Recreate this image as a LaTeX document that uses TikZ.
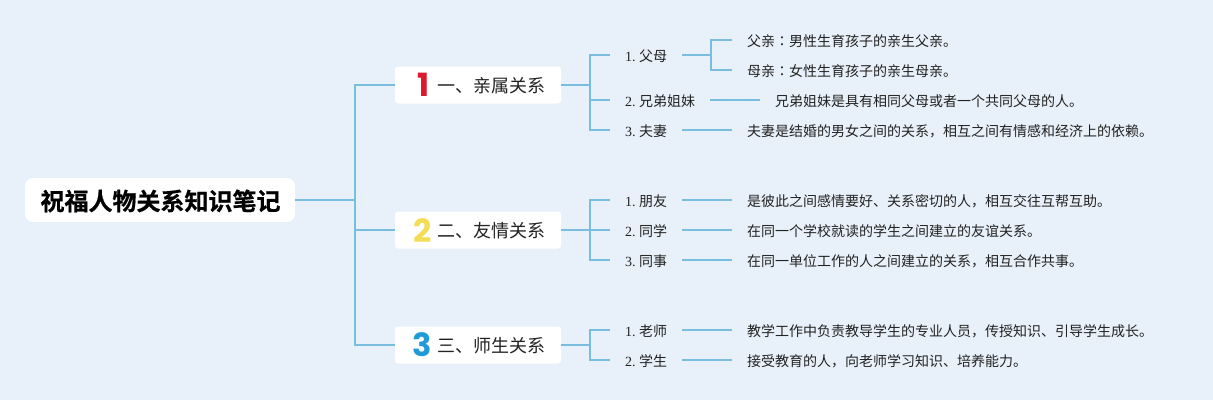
\documentclass[tikz,border=0pt]{standalone}
\usepackage{fontspec}
\setmainfont{Liberation Serif}
\newfontfamily\cjk{Noto Sans CJK SC}
\newfontfamily\cjkb[FakeBold=0.6]{Noto Sans CJK SC Bold}
\newfontfamily\cjkj{Noto Sans CJK JP}
\newfontfamily\numf{Poppins Bold}
\definecolor{bg}{HTML}{E8F1F9}
\definecolor{ln}{HTML}{7ABEDF}
\definecolor{ink}{HTML}{222222}
\definecolor{cred}{HTML}{DB1A2E}
\definecolor{cyel}{HTML}{F5DC55}
\definecolor{cblu}{HTML}{1F9BD8}
\tikzset{
  conn/.style={draw=ln,line width=2pt},
  rootbox/.style={fill=white,rounded corners=8pt,minimum width=270pt,minimum height=44pt,inner sep=0pt},
  roottext/.style={inner sep=0pt,font=\cjkb\fontsize{24}{24}\selectfont,text=black},
  topicbox/.style={fill=white,rounded corners=3pt,minimum width=166pt,minimum height=37pt,inner sep=0pt,anchor=center},
  topiclabel/.style={inner sep=0pt,anchor=west,text=ink,font=\cjk\fontsize{18}{18}\selectfont},
  icon/.style={inner sep=0pt,font=\numf\fontsize{32}{32}\selectfont},
  subbox/.style={inner xsep=15pt,inner ysep=0pt,anchor=west,text=ink,text height=14pt,text depth=1.4pt,font=\fontsize{14}{16}\selectfont},
  detail/.style={inner xsep=15pt,inner ysep=0pt,anchor=west,text=ink,text height=14pt,text depth=1.4pt,font=\cjk\fontsize{14}{16}\selectfont},
}
\newcommand{\sublabel}[3]{\makebox[#1pt][l]{#2\hspace{3.4pt}{\cjk #3}}}
\begin{document}
\begin{tikzpicture}[x=1pt,y=-1pt]
\path[use as bounding box,fill=bg] (0,0) rectangle (1213,400);
\coordinate (t0) at (355,200);
\coordinate (t1) at (590,85);
\coordinate (t2) at (590,230);
\coordinate (t3) at (590,345);
\coordinate (t11) at (711,55);

\node[rootbox] (root) at (160,200) {};
\node[roottext] (rootlabel) at (160.5,201) {祝福人物关系知识笔记};

\node[topicbox] (a) at (478,85) {};
\node[topicbox] (b) at (478,230) {};
\node[topicbox] (c) at (478,345) {};
\node[icon,text=cred] (ia) at (424,85) {1};
\node[icon,text=cyel] (ib) at (422.5,231) {2};
\node[icon,text=cblu] (ic) at (422.5,345) {3};
\node[topiclabel] (la) at (437,86) {一、亲属关系};
\node[topiclabel] (lb) at (437,231) {二、友情关系};
\node[topiclabel] (lc) at (437,346) {三、师生关系};

\node[subbox] (a1) at (610,55) {\sublabel{42}{1.}{父母}};
\node[subbox] (a2) at (610,100) {\sublabel{70}{2.}{兄弟姐妹}};
\node[subbox] (a3) at (610,130) {\sublabel{42}{3.}{夫妻}};
\node[subbox] (b1) at (610,200) {\sublabel{42}{1.}{朋友}};
\node[subbox] (b2) at (610,230) {\sublabel{42}{2.}{同学}};
\node[subbox] (b3) at (610,260) {\sublabel{42}{3.}{同事}};
\node[subbox] (c1) at (610,330) {\sublabel{42}{1.}{老师}};
\node[subbox] (c2) at (610,360) {\sublabel{42}{2.}{学生}};

\node[detail] (d1) at (732,40) {父亲{\cjkj ：}男性生育孩子的亲生父亲。};
\node[detail] (d2) at (732,70) {母亲{\cjkj ：}女性生育孩子的亲生母亲。};
\node[detail] (d3) at (760,100) {兄弟姐妹是具有相同父母或者一个共同父母的人。};
\node[detail] (d4) at (732,130) {夫妻是结婚的男女之间的关系，相互之间有情感和经济上的依赖。};
\node[detail] (d5) at (732,200) {是彼此之间感情要好、关系密切的人，相互交往互帮互助。};
\node[detail] (d6) at (732,230) {在同一个学校就读的学生之间建立的友谊关系。};
\node[detail] (d7) at (732,260) {在同一单位工作的人之间建立的关系，相互合作共事。};
\node[detail] (d8) at (732,330) {教学工作中负责教导学生的专业人员，传授知识、引导学生成长。};
\node[detail] (d9) at (732,360) {接受教育的人，向老师学习知识、培养能力。};

\draw[conn] (root.east) -- (t0);
\foreach \n in {a,b,c} \draw[conn] (\n.west) -| (t0);

\draw[conn] (a.east) -- (t1);
\foreach \n in {a1,a2,a3} \draw[conn] (\n.west) -| (t1);
\draw[conn] (b.east) -- (t2);
\foreach \n in {b1,b2,b3} \draw[conn] (\n.west) -| (t2);
\draw[conn] (c.east) -- (t3);
\foreach \n in {c1,c2} \draw[conn] (\n.west) -| (t3);

\draw[conn] (a1.east) -- (t11);
\foreach \n in {d1,d2} \draw[conn] (\n.west) -| (t11);
\draw[conn] (a2.east) -- (d3.west);
\draw[conn] (a3.east) -- (d4.west);
\draw[conn] (b1.east) -- (d5.west);
\draw[conn] (b2.east) -- (d6.west);
\draw[conn] (b3.east) -- (d7.west);
\draw[conn] (c1.east) -- (d8.west);
\draw[conn] (c2.east) -- (d9.west);
\end{tikzpicture}
\end{document}
